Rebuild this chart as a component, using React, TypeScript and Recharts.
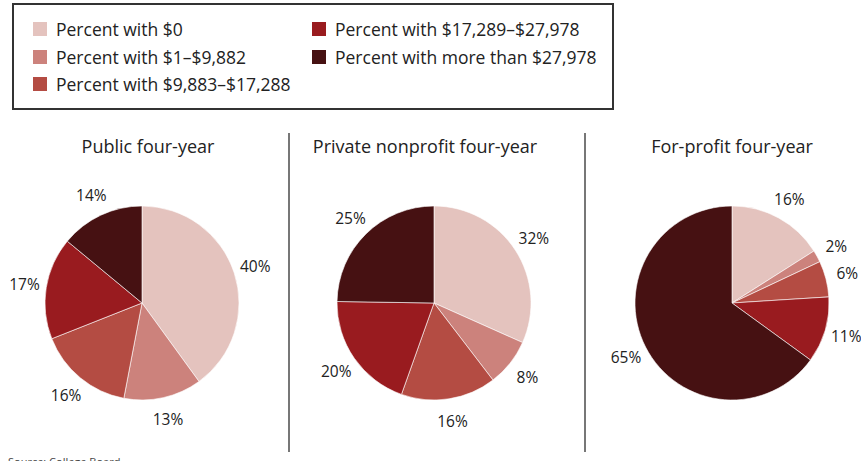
import { PieChart, Pie, Cell } from "recharts";

const categories = [
  "Percent with $0",
  "Percent with $1–$9,882",
  "Percent with $9,883–$17,288",
  "Percent with $17,289–$27,978",
  "Percent with more than $27,978",
];
const colors = ["#E4C3BE", "#CC827C", "#B44C43", "#991B1F", "#461112"];

const sectors = ["Public four-year", "Private nonprofit four-year", "For-profit four-year"];
const publicValues = [40, 13, 16, 17, 14];
const privateValues = [32, 8, 16, 20, 25];
const forProfitValues = [16, 2, 6, 11, 65];

const FONT = "'Open Sans', sans-serif";
const RADIAN = Math.PI / 180;

const toData = (vals: number[]) => vals.map((v, i) => ({ name: categories[i], value: v }));

const pies = [
  { title: sectors[0], data: toData(publicValues), cx: 142, titleX: 148 },
  { title: sectors[1], data: toData(privateValues), cx: 434, titleX: 425 },
  { title: sectors[2], data: toData(forProfitValues), cx: 732, titleX: 732 },
];

// labels sit ~22px outside the rim, centred on the slice's mid angle
const renderLabel = (props: any) => {
  const { cx, cy, midAngle, outerRadius, value } = props;
  const r = outerRadius + 22;
  const x = cx + r * Math.cos(-midAngle * RADIAN);
  const y = cy + r * Math.sin(-midAngle * RADIAN);
  return (
    <text x={x} y={y} textAnchor="middle" dominantBaseline="central" fill="#222" fontSize={15.5} fontFamily={FONT}>
      {value}%
    </text>
  );
};

export default function App() {
  return (
    <div style={{ position: "fixed", left: 0, top: 0, width: 861, height: 461, background: "#fff", overflow: "hidden", fontFamily: FONT }}>
      {/* legend box */}
      <div style={{ position: "absolute", left: 12, top: 3, width: 598, height: 103, border: "2px solid #333" }}>
        {categories.map((c, i) => {
          const col = i < 3 ? 0 : 1;
          const row = i < 3 ? i : i - 3;
          return (
            <div key={c} style={{ position: "absolute", left: col === 0 ? 19 : 298, top: 13 + row * 27.5, display: "flex", alignItems: "center", height: 22 }}>
              <div style={{ width: 14, height: 14, background: colors[i], marginRight: 9 }} />
              <span style={{ fontSize: 17.5, color: "#222", whiteSpace: "nowrap" }}>{c}</span>
            </div>
          );
        })}
      </div>

      {/* titles */}
      {pies.map((p) => (
        <div key={p.title} style={{ position: "absolute", left: p.titleX - 150, width: 300, top: 134, textAlign: "center", fontSize: 18, color: "#222" }}>
          {p.title}
        </div>
      ))}

      {/* separators */}
      <div style={{ position: "absolute", left: 288, top: 133, width: 2, height: 319, background: "#777" }} />
      <div style={{ position: "absolute", left: 584, top: 133, width: 2, height: 319, background: "#777" }} />

      <div style={{ position: "absolute", left: 8, top: 454, fontSize: 11, color: "#444" }}>Source: College Board</div>

      <div style={{ position: "absolute", left: 0, top: 0 }}>
        <PieChart width={861} height={461} margin={{ top: 0, right: 0, bottom: 0, left: 0 }}>
          {pies.map((p) => (
            <Pie
              key={p.title}
              data={p.data}
              dataKey="value"
              nameKey="name"
              cx={p.cx}
              cy={303}
              outerRadius={97}
              startAngle={90}
              endAngle={-270}
              stroke="#fff"
              strokeWidth={0.6}
              label={renderLabel}
              labelLine={false}
              isAnimationActive={false}
            >
              {p.data.map((d, i) => (
                <Cell key={d.name} fill={colors[i]} />
              ))}
            </Pie>
          ))}
        </PieChart>
      </div>
    </div>
  );
}
